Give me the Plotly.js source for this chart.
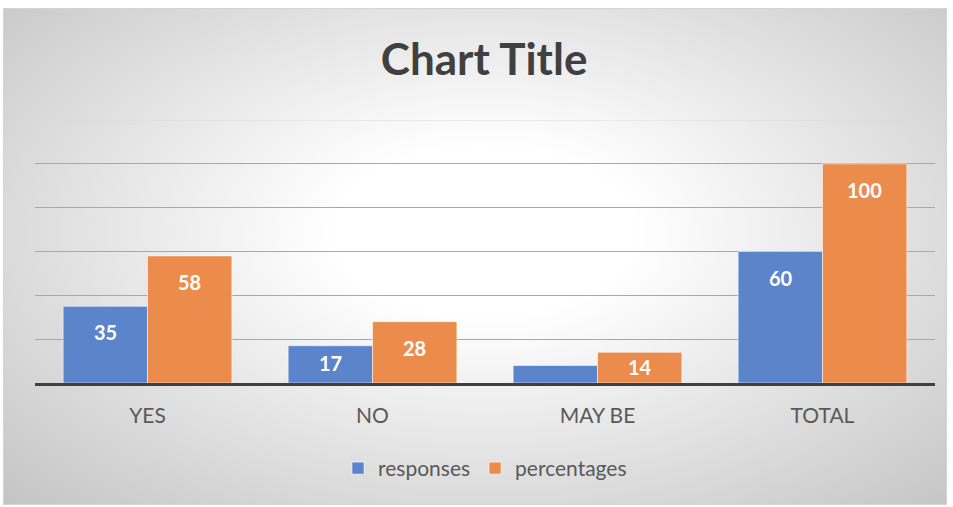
<!DOCTYPE html>
<html>
<head>
<meta charset="utf-8">
<script src="https://cdn.plot.ly/plotly-3.0.1.min.js"></script>
<style>
  html, body { margin: 0; padding: 0; background: #ffffff; width: 953px; height: 507px; overflow: hidden; }
  #bg { position: absolute; left: 3px; top: 8px; width: 942px; height: 495px;
        border: 1px solid #d4d4d4;
        background: radial-gradient(ellipse farthest-corner at 51% 45%, #ffffff 0%, #ffffff 22%, #c4c4c4 100%); }
  #chart { position: absolute; left: 0; top: 0; width: 953px; height: 507px; }
</style>
</head>
<body>
<div id="bg"></div>
<div id="chart"></div>
<script>
const categories = ["YES", "NO", "MAY BE", "TOTAL"];
const responses = [35, 17, 8, 60];
const percentages = [58, 28, 14, 100];
const seriesNames = ["responses", "percentages"];

const FONT = "Lato, 'Open Sans', sans-serif";
const colors = ["#5b84ca", "#ec8c4c"];
const seriesValues = [responses, percentages];

const traces = seriesValues.map((vals, i) => ({
  type: "bar", name: seriesNames[i], x: categories, y: vals,
  marker: { color: colors[i], line: { color: "rgba(255,255,255,0.55)", width: 1 } },
  hoverinfo: "none"
}));

// data labels (Excel "inside end" style), placed through the axis scales
const plotH = 507 - 120 - 124;
const yMax = 120;
const pxPerUnit = plotH / yMax;
const annotations = [];
seriesValues.forEach((vals, i) => {
  vals.forEach((v, j) => {
    const hpx = v * pxPerUnit;
    if (hpx < 24) return; // too small: label hidden as in the source
    annotations.push({
      x: categories[j], y: v, xref: "x", yref: "y",
      xshift: (i === 0 ? -42 : 42), yshift: -Math.min(26, hpx / 2 - 1),
      text: "<b>" + v + "</b>", showarrow: false,
      xanchor: "center", yanchor: "middle",
      font: { family: FONT, size: 20, color: "#ffffff" }
    });
  });
});

const layout = {
  width: 953, height: 507,
  paper_bgcolor: "rgba(0,0,0,0)", plot_bgcolor: "rgba(0,0,0,0)",
  margin: { l: 35, r: 18, t: 120, b: 124 },
  barmode: "group", bargap: 0.25, bargroupgap: 0,
  title: { text: "<b>Chart Title</b>", x: 0.508, xanchor: "center", y: 0.882, yanchor: "middle",
           font: { family: FONT, size: 44, color: "#404040" } },
  xaxis: { showgrid: false, showline: true, linecolor: "#404040", linewidth: 3,
           ticks: "", tickfont: { family: FONT, size: 21, color: "#595959" },
           ticklabelstandoff: 12, fixedrange: true },
  yaxis: { range: [0, yMax], dtick: 20, showticklabels: false, showgrid: true,
           gridcolor: "#a8a8a8", gridwidth: 1, zeroline: false, showline: false, fixedrange: true },
  shapes: [{ type: "line", xref: "paper", yref: "y", x0: 0, x1: 1, y0: yMax, y1: yMax,
             line: { color: "#dadada", width: 1 }, layer: "below" }],
  annotations: annotations,
  showlegend: true,
  legend: { orientation: "h", x: 0.5, xanchor: "center", y: -0.325, yanchor: "middle",
            font: { family: FONT, size: 21, color: "#595959" },
            bgcolor: "rgba(0,0,0,0)", itemwidth: 30, tracegroupgap: 0 }
};

Plotly.newPlot("chart", traces, layout, { displayModeBar: false, staticPlot: true });
</script>
</body>
</html>
